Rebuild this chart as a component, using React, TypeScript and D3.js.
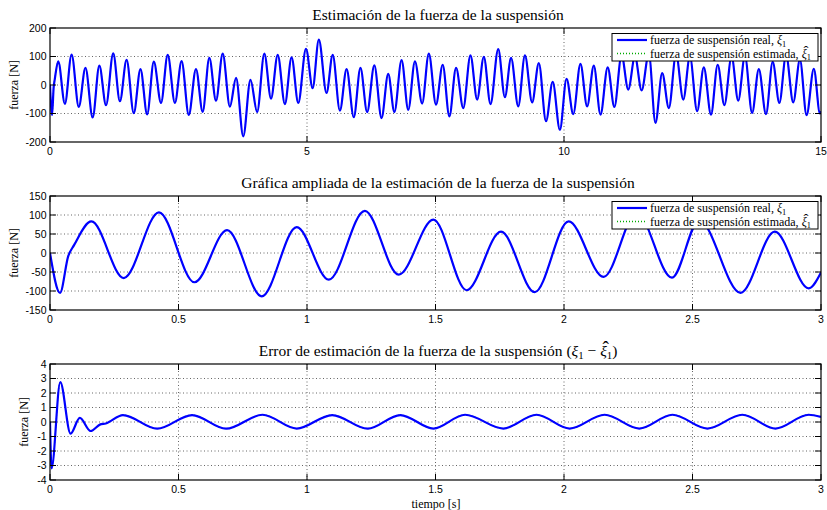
import React from 'react'
import * as d3 from 'd3'

const W = 827
const H = 510

// fuerza de suspensión 0-15 s (extremos)
const tiempoFull = [
  0, 0.04, 0.071, 0.093, 0.16, 0.29, 0.42, 0.56, 0.69, 0.83, 0.96, 1.09, 1.23, 1.36, 1.49, 1.63, 1.76, 1.89,
  2.02, 2.16, 2.29, 2.43, 2.56, 2.7, 2.84, 2.97, 3.1, 3.23, 3.36, 3.5, 3.62, 3.76, 3.9, 4.03, 4.17, 4.3,
  4.43, 4.57, 4.7, 4.83, 4.98, 5.11, 5.23, 5.38, 5.5, 5.64, 5.77, 5.91, 6.04, 6.17, 6.31, 6.45, 6.58, 6.7,
  6.84, 6.97, 7.1, 7.24, 7.37, 7.51, 7.64, 7.77, 7.9, 8.04, 8.18, 8.31, 8.44, 8.57, 8.72, 8.85, 8.97, 9.11,
  9.24, 9.38, 9.51, 9.65, 9.78, 9.92, 10.05, 10.18, 10.32, 10.45, 10.58, 10.71, 10.85, 10.98, 11.12, 11.25,
  11.38, 11.51, 11.65, 11.78, 11.91, 12.04, 12.18, 12.32, 12.45, 12.59, 12.72, 12.86, 12.99, 13.12, 13.26,
  13.39, 13.52, 13.66, 13.79, 13.93, 14.06, 14.19, 14.32, 14.46, 14.59, 14.72, 14.86, 14.98, 15
]
const fuerzaFull = [
  0, -105, -8, 20, 83, -66, 107, -77, 60, -114, 68, -71, 111, -57, 88, -99, 56, -103,
  82, -63, 106, -63, 84, -105, 56, -94, 95, -55, 110, -76, 25, -180, 18, -95, 110, -48,
  106, -67, 97, -63, 127, -11, 159, -28, 106, -90, 56, -113, 60, -95, 69, -116, 39, -95,
  87, -87, 83, -65, 110, -69, 71, -110, 60, -81, 104, -51, 99, -67, 126, -43, 95, -75,
  104, -61, 77, -127, 11, -157, 22, -102, 74, -75, 68, -104, 62, -77, 105, -16,
  100, -19, 110, -133, 42, -81, 108, -51, 100, -92, 62, -104, 71, -71, 100,
  -55, 102, -98, 56, -102, 81, -63, 105, -61, 89, -106, 57, -100, -92
]

// gráfica ampliada 0-3 s
const tiempoZoom = [
  0, 0.039, 0.071, 0.093, 0.161, 0.287, 0.424, 0.562, 0.689, 0.824, 0.96, 1.085, 1.225, 1.357,
  1.492, 1.621, 1.755, 1.886, 2.018, 2.154, 2.283, 2.42, 2.526, 2.687, 2.82, 2.952, 3
]
const fuerzaZoom = [
  0, -105, -8, 20, 83, -66, 107, -77, 60, -114, 68, -70, 111, -57,
  88, -98, 56, -103, 83, -63, 106, -65, 86, -105, 56, -93, -51
]

// error de estimación 0-3 s
const tiempoErr = [
  0, 0.006, 0.04, 0.08, 0.116, 0.158, 0.194, 0.217, 0.284, 0.417, 0.553, 0.685, 0.827, 0.96, 1.098,
  1.236, 1.363, 1.492, 1.615, 1.764, 1.893, 2.022, 2.158, 2.293, 2.422, 2.558, 2.694, 2.823, 2.952, 3
]
const errorVals = [
  0, -3.2, 2.75, -0.8, 0.28, -0.62, -0.18, -0.1, 0.48, -0.46, 0.48, -0.46, 0.5, -0.45, 0.48,
  -0.46, 0.48, -0.45, 0.5, -0.45, 0.5, -0.45, 0.5, -0.45, 0.5, -0.45, 0.5, -0.45, 0.5, 0.35
]

const ticksFullX = [0, 5, 10, 15]
const ticksZoomX = [0, 0.5, 1, 1.5, 2, 2.5, 3]
const ticksFullY = [-200, -100, 0, 100, 200]
const ticksZoomY = [-150, -100, -50, 0, 50, 100, 150]
const ticksErrY = [-4, -3, -2, -1, 0, 1, 2, 3, 4]

const LEFT = 50
const RIGHT = 821
const SERIF = '"Liberation Serif", "Times New Roman", serif'
const SANS = '"Liberation Sans", Arial, sans-serif'
const BLUE = '#0000ff'
const GREEN = '#00aa00'

// ξ1 (con sombrero opcional) como tspans; s = tamaño de letra
const Xi = ({ s, hat = false, rest = '' }) => (
  <>
    <tspan fontStyle="italic">ξ</tspan>
    <tspan dy={0.22 * s} fontSize={0.7 * s}>
      1
    </tspan>
    {hat && (
      <tspan dx={-0.62 * s} dy={-0.34 * s} fontSize={1.25 * s}>
        ˆ
      </tspan>
    )}
    {rest && (
      <tspan dx={hat ? 0.2 * s : 0} dy={hat ? 0.12 * s : -0.22 * s}>
        {rest}
      </tspan>
    )}
  </>
)

const Legend = ({ top }) => {
  const x0 = 612
  const r1 = top + 6.5
  const r2 = top + 20
  return (
    <g fontFamily={SERIF} fontSize={12}>
      <rect x={x0} y={top} width={206} height={27.5} fill="#fff" stroke="#000" strokeWidth={1} />
      <line x1={617} x2={647} y1={r1} y2={r1} stroke={BLUE} strokeWidth={2.2} />
      <line x1={617} x2={647} y1={r2} y2={r2} stroke={GREEN} strokeWidth={1.3} strokeDasharray="1 2" />
      <text x={650} y={r1 + 4}>
        fuerza de suspensión real, <Xi s={12} />
      </text>
      <text x={650} y={r2 + 4}>
        fuerza de suspensión estimada, <Xi s={12} hat />
      </text>
    </g>
  )
}

const Panel = ({ top, bottom, xDomain, yDomain, xTicks, yTicks, t, v, title, legend, yLabelX, id }) => {
  const x = d3.scaleLinear().domain(xDomain).range([LEFT, RIGHT])
  const y = d3.scaleLinear().domain(yDomain).range([bottom, top])
  const pts = t.map((d, i) => [d, v[i]])
  const line = d3
    .line()
    .x((d) => x(d[0]))
    .y((d) => y(d[1]))
    .curve(d3.curveMonotoneX)
  const tl = 6

  return (
    <g>
      <defs>
        <clipPath id={id}>
          <rect x={LEFT} y={top} width={RIGHT - LEFT} height={bottom - top} />
        </clipPath>
      </defs>
      <rect x={LEFT} y={top} width={RIGHT - LEFT} height={bottom - top} fill="#fff" />
      {/* rejilla */}
      <g stroke="#666" strokeWidth={1} strokeDasharray="1 2.5">
        {xTicks.slice(1, -1).map((d) => (
          <line key={'gx' + d} x1={x(d)} x2={x(d)} y1={top} y2={bottom} />
        ))}
        {yTicks.slice(1, -1).map((d) => (
          <line key={'gy' + d} x1={LEFT} x2={RIGHT} y1={y(d)} y2={y(d)} />
        ))}
      </g>
      <g clipPath={`url(#${id})`}>
        <path d={line(pts)} fill="none" stroke={GREEN} strokeWidth={1} strokeDasharray="1 2" />
        <path d={line(pts)} fill="none" stroke={BLUE} strokeWidth={2.2} strokeLinejoin="round" />
      </g>
      {/* marcas */}
      <g stroke="#000" strokeWidth={1}>
        {xTicks.map((d) => (
          <g key={'tx' + d}>
            <line x1={x(d)} x2={x(d)} y1={bottom} y2={bottom - tl} />
            <line x1={x(d)} x2={x(d)} y1={top} y2={top + tl} />
          </g>
        ))}
        {yTicks.map((d) => (
          <g key={'ty' + d}>
            <line x1={LEFT} x2={LEFT + tl} y1={y(d)} y2={y(d)} />
            <line x1={RIGHT} x2={RIGHT - tl} y1={y(d)} y2={y(d)} />
          </g>
        ))}
      </g>
      <rect x={LEFT} y={top} width={RIGHT - LEFT} height={bottom - top} fill="none" stroke="#000" strokeWidth={1.2} />
      <g fontFamily={SANS} fontSize={10.5} fill="#000">
        {xTicks.map((d) => (
          <text key={'lx' + d} x={x(d)} y={bottom + 12.5} textAnchor="middle">
            {String(d)}
          </text>
        ))}
        {yTicks.map((d) => (
          <text key={'ly' + d} x={LEFT - 3.5} y={y(d)} dy="0.35em" textAnchor="end">
            {String(d)}
          </text>
        ))}
      </g>
      <text
        transform={`translate(${yLabelX},${(top + bottom) / 2}) rotate(-90)`}
        dy="0.35em"
        textAnchor="middle"
        fontFamily={SERIF}
        fontSize={12}
      >
        fuerza [N]
      </text>
      <text x={438} y={top - 8.5} textAnchor="middle" fontFamily={SERIF} fontSize={15.5}>
        {title}
      </text>
      {legend && <Legend top={top + 5.5} />}
    </g>
  )
}

const App = () => {
  return (
    <svg width={W} height={H} style={{ position: 'absolute', left: 0, top: 0, background: '#fff' }}>
      <rect width={W} height={H} fill="#fff" />
      <Panel
        id="c1"
        top={28}
        bottom={142}
        xDomain={[0, 15]}
        yDomain={[-200, 200]}
        xTicks={ticksFullX}
        yTicks={ticksFullY}
        t={tiempoFull}
        v={fuerzaFull}
        title="Estimación de la fuerza de la suspensión"
        legend
        yLabelX={14}
      />
      <Panel
        id="c2"
        top={196}
        bottom={310}
        xDomain={[0, 3]}
        yDomain={[-150, 150]}
        xTicks={ticksZoomX}
        yTicks={ticksZoomY}
        t={tiempoZoom}
        v={fuerzaZoom}
        title="Gráfica ampliada de la estimación de la fuerza de la suspensión"
        legend
        yLabelX={14}
      />
      <Panel
        id="c3"
        top={364}
        bottom={480}
        xDomain={[0, 3]}
        yDomain={[-4, 4]}
        xTicks={ticksZoomX}
        yTicks={ticksErrY}
        t={tiempoErr}
        v={errorVals}
        title={
          <>
            Error de estimación de la fuerza de la suspensión (<Xi s={15.5} rest=" − " />
            <Xi s={15.5} hat rest=")" />
          </>
        }
        yLabelX={24}
      />
      <text x={436} y={508} textAnchor="middle" fontFamily={SERIF} fontSize={12}>
        tiempo [s]
      </text>
    </svg>
  )
}

export default App
